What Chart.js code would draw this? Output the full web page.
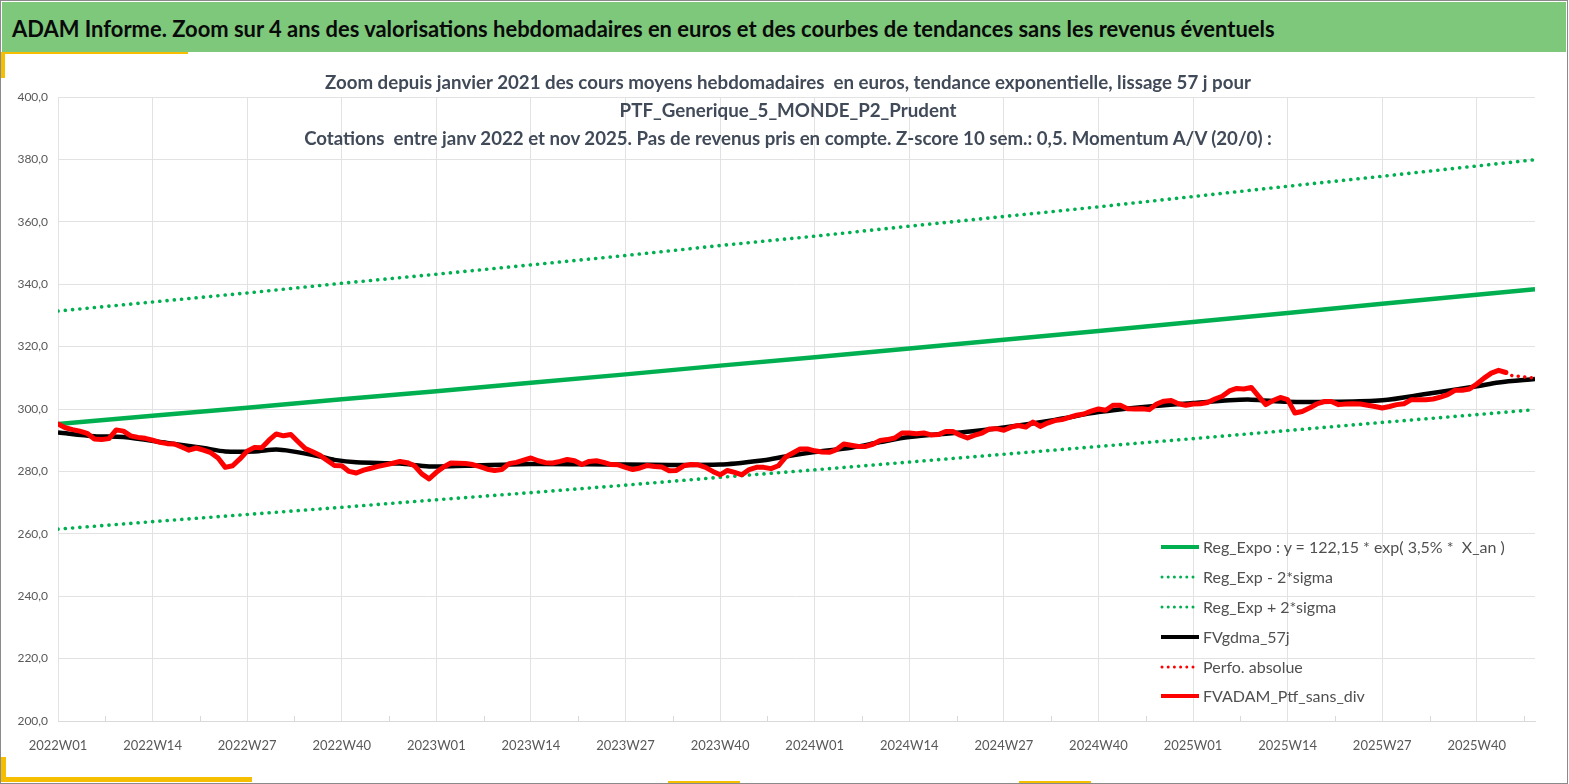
<!DOCTYPE html>
<html>
<head>
<meta charset="utf-8">
<script src="https://cdn.jsdelivr.net/npm/chart.js@4.4.1/dist/chart.umd.min.js"></script>
<style>
  html, body { margin:0; padding:0; background:#fff; }
  body { width:1569px; height:784px; position:relative; overflow:hidden; font-family: Lato, "Open Sans", sans-serif; }
  #frame { position:absolute; left:0; top:0; width:1566px; height:782px; border:1px solid #8a8a8a; z-index:3; pointer-events:none; }
  #banner { position:absolute; left:2px; top:2px; width:1564px; height:50px; background:#7DC87B; z-index:2; }
  #banner span { position:absolute; left:10px; top:26px; transform:translateY(-50%); font-weight:700; color:#0a0a0a; white-space:pre; font-size:21px; }
  .y1 { position:absolute; background:#F5BE00; z-index:4; }
  canvas { position:absolute; left:0; top:0; z-index:1; }
  .tline { position:absolute; left:0; width:1576px; text-align:center; z-index:2; height:24px; line-height:24px; }
  .tline span { font-weight:700; color:#414a58; white-space:pre; font-size:17px; display:inline-block; }
  .leg { position:absolute; left:1160px; height:20px; z-index:2; }
  .leg svg { position:absolute; left:0; top:6px; }
  .leg span { position:absolute; left:43px; top:0; line-height:20px; color:#505050; white-space:pre; font-size:15px; }
</style>
</head>
<body>
<div id="frame"></div>
<div id="banner"><span id="bannerText">ADAM Informe. Zoom sur 4 ans des valorisations hebdomadaires en euros et des courbes de tendances sans les revenus éventuels</span></div>
<div class="y1" style="left:1px;top:52px;width:187px;height:2px;"></div>
<div class="y1" style="left:1px;top:52px;width:4px;height:26px;"></div>
<div class="y1" style="left:1px;top:777px;width:251px;height:5px;"></div>
<div class="y1" style="left:1px;top:757px;width:5px;height:25px;"></div>
<div class="y1" style="left:668px;top:781px;width:72px;height:2px;"></div>
<div class="y1" style="left:1019px;top:781px;width:72px;height:2px;"></div>

<div class="tline" style="top:70px;"><span id="t1">Zoom depuis janvier 2021 des cours moyens hebdomadaires  en euros, tendance exponentielle, lissage 57 j pour</span></div>
<div class="tline" style="top:98px;"><span id="t2">PTF_Generique_5_MONDE_P2_Prudent</span></div>
<div class="tline" style="top:126px;"><span id="t3">Cotations  entre janv 2022 et nov 2025. Pas de revenus pris en compte. Z-score 10 sem.: 0,5. Momentum A/V (20/0) :</span></div>

<div class="leg" style="top:537px;"><svg width="40" height="8"><line x1="1" y1="4" x2="39" y2="4" stroke="#00B050" stroke-width="4"/></svg><span id="l1">Reg_Expo : y = 122,15 * exp( 3,5% *  X_an )</span></div>
<div class="leg" style="top:567px;"><svg width="40" height="8"><line x1="2" y1="4" x2="39" y2="4" stroke="#00B050" stroke-width="3" stroke-linecap="round" stroke-dasharray="0 6.2"/></svg><span class="ls">Reg_Exp - 2*sigma</span></div>
<div class="leg" style="top:597px;"><svg width="40" height="8"><line x1="2" y1="4" x2="39" y2="4" stroke="#00B050" stroke-width="3" stroke-linecap="round" stroke-dasharray="0 6.2"/></svg><span class="ls">Reg_Exp + 2*sigma</span></div>
<div class="leg" style="top:627px;"><svg width="40" height="8"><line x1="1" y1="4" x2="39" y2="4" stroke="#000000" stroke-width="4"/></svg><span class="ls">FVgdma_57j</span></div>
<div class="leg" style="top:657px;"><svg width="40" height="8"><line x1="2" y1="4" x2="39" y2="4" stroke="#FF0000" stroke-width="3" stroke-linecap="round" stroke-dasharray="0 6.2"/></svg><span class="ls">Perfo. absolue</span></div>
<div class="leg" style="top:686px;"><svg width="40" height="8"><line x1="1" y1="4" x2="39" y2="4" stroke="#FF0000" stroke-width="4"/></svg><span class="ls">FVADAM_Ptf_sans_div</span></div>

<canvas id="c" width="1569" height="784"></canvas>

<script>
// ---------- DATA ----------
const weekLabels = ['2022W01','2022W14','2022W27','2022W40','2023W01','2023W14','2023W27','2023W40',
                    '2024W01','2024W14','2024W27','2024W40','2025W01','2025W14','2025W27','2025W40'];
const yTicks = [200,220,240,260,280,300,320,340,360,380,400];

// trend lines sampled every 13 weeks (week index) + last week
const trendWeeks = [0,13,26,39,52,65,78,91,104,117,130,143,156,169,182,195,203];
const regExpo    = [295.2,297.8,300.4,303.1,305.7,308.4,311.1,313.9,316.6,319.4,322.2,325.0,327.9,330.8,333.7,336.6,338.4];
const regMinus   = [261.5,263.9,266.2,268.5,270.9,273.2,275.6,278.1,280.5,283.0,285.5,288.0,290.5,293.1,295.7,298.2,299.8];
const regPlus    = [331.4,334.3,337.2,340.3,343.2,346.2,349.2,352.4,355.4,358.6,361.7,364.8,368.1,371.4,374.6,377.9,379.9];

// moving average (57 j)
const gdmaWeeks  = [0,5,9,15,20,23,27,30,32,36,38,41,47,51,56,65,78,91,97,100,104,109,113,117,124,130,137,143,150,156,161,164,169,175,182,188,195,198,203];
const gdmaValues = [292.5,291.3,291.0,289.1,287.5,286.4,286.4,287.0,286.5,284.8,283.7,282.9,282.5,281.6,281.8,282.4,282.2,282.2,283.6,284.8,286.2,287.6,289.4,291.0,292.5,294.1,296.5,299.0,300.8,301.9,302.8,303.0,302.3,302.3,302.8,304.8,307.3,308.5,309.6];

// weekly portfolio value (week 0 = 2022W01)
const ptfValues = [
 295.2,294.0,293.4,292.9,292.2,290.4,290.2,290.5,293.3,292.9,
 291.4,290.9,290.6,290.0,289.3,288.9,288.8,287.8,286.8,287.5,
 286.8,286.0,284.3,281.3,281.8,284.0,286.5,287.7,287.6,290.0,
 292.0,291.4,291.8,289.5,287.3,286.3,285.2,283.5,281.9,281.8,
 280.0,279.5,280.4,281.0,281.6,282.1,282.6,283.2,282.8,281.8,
 279.2,277.6,279.7,281.4,282.7,282.6,282.5,282.2,281.5,280.7,
 280.3,280.6,282.5,282.9,283.6,284.3,283.4,282.8,282.7,283.2,
 283.8,283.4,282.2,283.2,283.4,282.9,282.2,282.1,281.3,280.6,
 281.1,281.9,281.6,281.4,280.2,280.3,281.8,282.2,282.1,281.3,
 280.0,278.9,280.3,279.7,278.9,280.6,281.3,281.3,280.9,281.8,
 284.6,285.9,287.2,287.2,286.6,286.2,286.1,287.0,288.8,288.4,
 288.0,288.0,288.7,289.9,290.2,290.7,292.3,292.3,292.1,292.3,
 291.7,291.8,292.8,292.8,291.6,290.7,291.6,292.3,293.6,293.7,
 293.2,294.2,294.7,294.2,295.8,294.4,295.5,296.3,296.6,297.3,
 298.0,298.4,299.3,300.0,299.6,301.2,301.2,300.1,300.0,300.1,
 299.8,301.6,302.5,302.7,301.7,301.2,301.6,301.7,302.1,303.2,
 304.1,305.8,306.6,306.4,306.9,304.1,301.4,302.7,303.7,303.0,
 298.7,299.2,300.3,301.6,302.4,302.4,301.4,301.6,301.7,301.6,
 301.2,300.8,300.3,300.8,301.4,301.7,303.0,303.0,303.0,303.2,
 303.8,304.6,306.0,306.0,306.4,308.0,309.9,311.5,312.4,311.7
];
// absolute performance tail (dotted)
const perfWeeks  = [199,200,201,202,203];
const perfValues = [311.7,310.5,310.5,310.1,310.0];

// ---------- FIT TEXT ----------
function fitWidth(id, w) {
  const el = document.getElementById(id);
  const fs = parseFloat(getComputedStyle(el).fontSize);
  const r = el.getBoundingClientRect().width;
  el.style.fontSize = (fs * w / r).toFixed(2) + 'px';
  return fs * w / r;
}
fitWidth('bannerText', 1263);
fitWidth('t1', 927);
fitWidth('t2', 337);
fitWidth('t3', 968);
const lfs = fitWidth('l1', 302);
document.querySelectorAll('.ls').forEach(e => e.style.fontSize = lfs.toFixed(2) + 'px');

// ---------- CHART ----------
const pts = (xs, ys) => xs.map((x, i) => ({x: x, y: ys[i]}));
const minorTicks = {
  id: 'minorTicks',
  beforeDatasetsDraw(chart) {
    const xs = chart.scales.x, ctx = chart.ctx, b = chart.chartArea.bottom;
    ctx.save();
    ctx.strokeStyle = '#d9d9d9'; ctx.lineWidth = 1;
    for (let i = 0; i < weekLabels.length; i++) {
      const v = i * 13 + 6.5;
      if (v > xs.max) break;
      const px = Math.round(xs.getPixelForValue(v)) + 0.5;
      ctx.beginPath(); ctx.moveTo(px, b); ctx.lineTo(px, b - 5); ctx.stroke();
    }
    ctx.restore();
  }
};

new Chart(document.getElementById('c'), {
  type: 'line',
  data: {
    datasets: [
      { label: 'FVADAM_Ptf_sans_div', data: ptfValues.map((v, i) => ({x: i, y: v})),
        borderColor: '#FF0000', borderWidth: 5, pointRadius: 0, tension: 0, borderJoinStyle: 'round', borderCapStyle: 'round' },
      { label: 'Perfo. absolue', data: pts(perfWeeks, perfValues),
        borderColor: '#FF0000', borderWidth: 3.5, pointRadius: 0, borderDash: [0.1, 6.5], borderCapStyle: 'round' },
      { label: 'FVgdma_57j', data: pts(gdmaWeeks, gdmaValues),
        borderColor: '#000000', borderWidth: 4.5, pointRadius: 0, tension: 0.3, borderJoinStyle: 'round' },
      { label: 'Reg_Exp + 2*sigma', data: pts(trendWeeks, regPlus),
        borderColor: '#00B050', borderWidth: 3.6, pointRadius: 0, borderDash: [0.1, 7.2], borderCapStyle: 'round' },
      { label: 'Reg_Exp - 2*sigma', data: pts(trendWeeks, regMinus),
        borderColor: '#00B050', borderWidth: 3.6, pointRadius: 0, borderDash: [0.1, 7.2], borderCapStyle: 'round' },
      { label: 'Reg_Expo : y = 122,15 * exp( 3,5% *  X_an )', data: pts(trendWeeks, regExpo),
        borderColor: '#00B050', borderWidth: 4.5, pointRadius: 0 }
    ]
  },
  options: {
    responsive: false,
    animation: false,
    devicePixelRatio: 1,
    layout: { padding: { top: 97, right: 34, left: 0, bottom: 0 } },
    plugins: { legend: { display: false }, title: { display: false }, tooltip: { enabled: false } },
    scales: {
      x: {
        type: 'linear', min: 0, max: 203,
        afterBuildTicks: s => { s.ticks = weekLabels.map((l, i) => ({ value: i * 13 })); },
        afterFit: s => { s.height = 63; },
        grid: { color: '#e2e2e2', drawTicks: false, lineWidth: 1 },
        border: { color: '#d9d9d9' },
        ticks: { autoSkip: false, maxRotation: 0, minRotation: 0, padding: 17, color: '#595959',
                 font: { family: 'Lato', size: 13 },
                 callback: v => weekLabels[Math.round(v / 13)] }
      },
      y: {
        min: 200, max: 400,
        afterBuildTicks: s => { s.ticks = yTicks.map(v => ({ value: v })); },
        afterFit: s => { s.width = 58; },
        grid: { color: '#e2e2e2', drawTicks: false },
        border: { display: false },
        ticks: { padding: 10, color: '#595959', font: { family: 'Lato', size: 12 },
                 callback: v => v.toFixed(1).replace('.', ',') }
      }
    }
  },
  plugins: [minorTicks]
});
</script>
</body>
</html>
